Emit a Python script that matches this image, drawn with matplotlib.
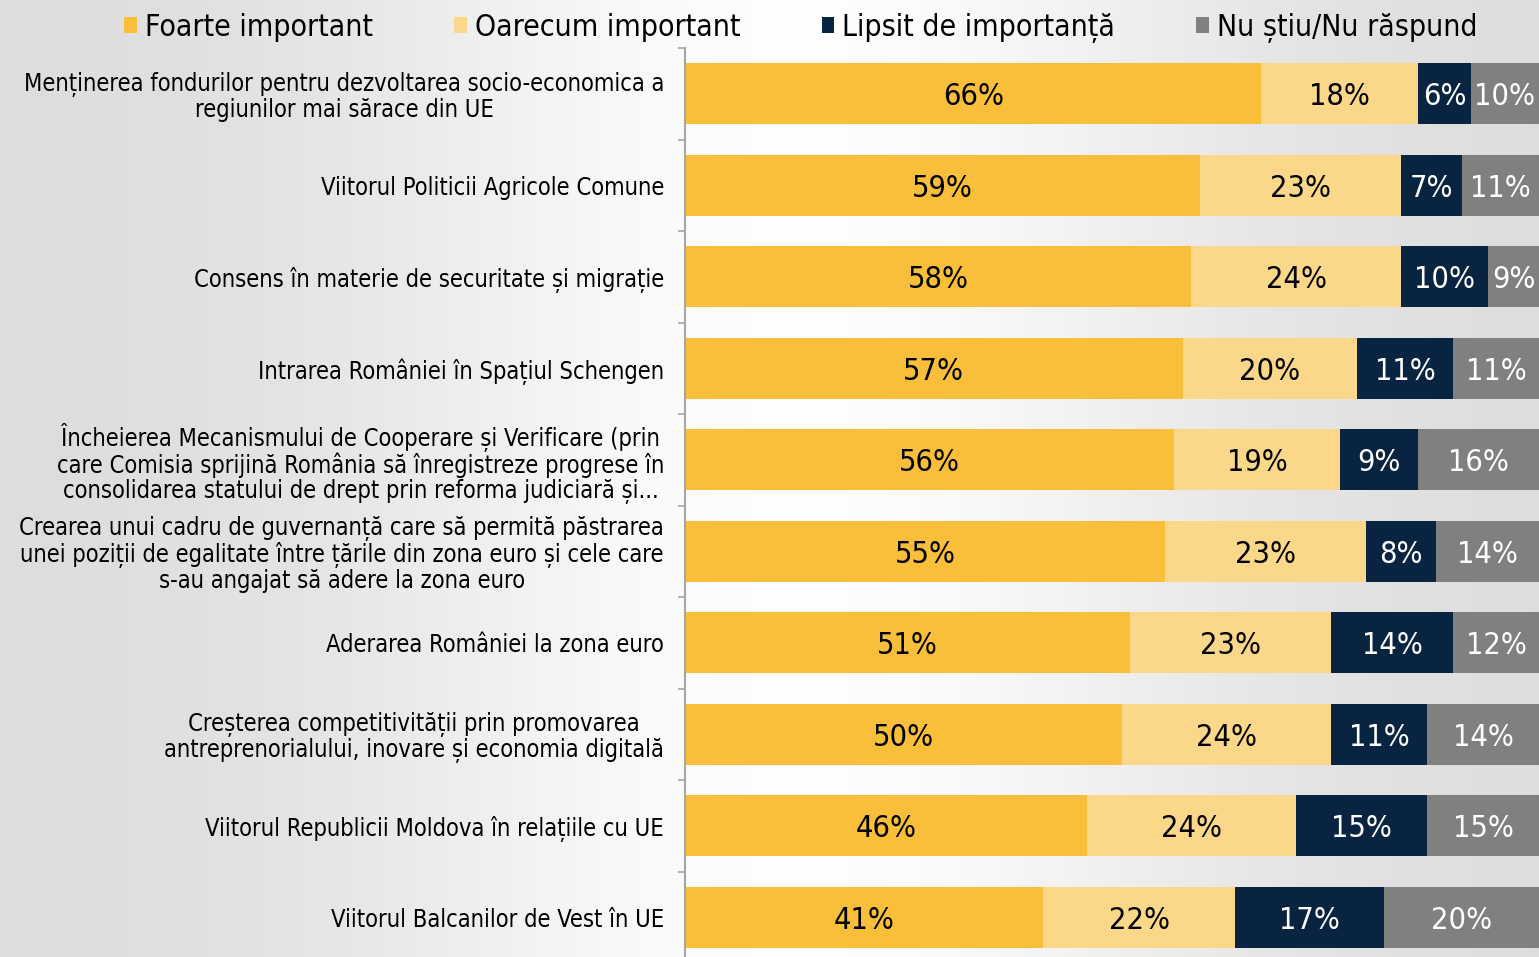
import numpy as np
import matplotlib
matplotlib.use("Agg")
import matplotlib.pyplot as plt

categories = [
    "Menținerea fondurilor pentru dezvoltarea socio-economica a\nregiunilor mai sărace din UE",
    "Viitorul Politicii Agricole Comune",
    "Consens în materie de securitate și migrație",
    "Intrarea României în Spațiul Schengen",
    "Încheierea Mecanismului de Cooperare și Verificare (prin\ncare Comisia sprijină România să înregistreze progrese în\nconsolidarea statului de drept prin reforma judiciară și...",
    "Crearea unui cadru de guvernanță care să permită păstrarea\nunei poziții de egalitate între țările din zona euro și cele care\ns-au angajat să adere la zona euro",
    "Aderarea României la zona euro",
    "Creșterea competitivității prin promovarea\nantreprenorialului, inovare și economia digitală",
    "Viitorul Republicii Moldova în relațiile cu UE",
    "Viitorul Balcanilor de Vest în UE",
]
series_names = ["Foarte important", "Oarecum important", "Lipsit de importanță", "Nu știu/Nu răspund"]
foarte = [66, 59, 58, 57, 56, 55, 51, 50, 46, 41]
oarecum = [18, 23, 24, 20, 19, 23, 23, 24, 24, 22]
lipsit = [6, 7, 10, 11, 9, 8, 14, 11, 15, 17]
nu_stiu = [10, 11, 9, 11, 16, 14, 12, 14, 15, 20]

colors = ["#F9BE3A", "#FBD889", "#082440", "#808080"]
text_colors = ["black", "black", "white", "white"]
font = dict(family="DejaVu Sans", stretch="condensed")

W, H = 1539, 957
fig = plt.figure(figsize=(W / 100, H / 100), dpi=100)

# background gradient
bg = fig.add_axes([0, 0, 1, 1], zorder=0)
xx = np.linspace(0, 1, 400)
g = 0.86 + 0.13 * np.exp(-((xx - 0.52) / 0.28) ** 2)
img = np.tile(g, (50, 1))
bg.imshow(img, cmap="gray", vmin=0, vmax=1, aspect="auto", extent=[0, 1, 0, 1])
bg.axis("off")

ax = fig.add_axes([685 / W, 0, 1 - 685 / W, 1 - 48 / H], zorder=1)
ax.patch.set_alpha(0)

y = np.arange(len(categories))
left = np.zeros(len(categories))
bars = []
for vals, name, c, tc in zip([foarte, oarecum, lipsit, nu_stiu], series_names, colors, text_colors):
    b = ax.barh(y, vals, left=left, height=0.667, color=c, label=name)
    txts = ax.bar_label(b, labels=[f"{v}%" for v in vals], label_type="center",
                        color=tc, fontsize=22, **font)
    for t in txts:
        t.set_verticalalignment("center_baseline")
    bars.append(b)
    left = left + np.array(vals)

ax.set_xlim(0, 97.8)
ax.set_ylim(9.432, -0.5)
ax.set_xticks([])
ax.set_yticks(y)
ax.set_yticklabels(categories, fontsize=17, multialignment="center", linespacing=1.05, **font)
ax.set_yticks(np.arange(-0.5, 9.5, 1), minor=True)
ax.tick_params(axis="y", which="major", length=0, pad=15)
ax.tick_params(axis="y", which="minor", length=5, width=1.2, color="#a6a6a6")
for s in ["top", "right", "bottom"]:
    ax.spines[s].set_visible(False)
ax.spines["left"].set_color("#a6a6a6")
ax.spines["left"].set_linewidth(1.5)

fig.legend(handles=bars, labels=series_names, loc="center left", bbox_to_anchor=(109 / W, 1 - 28 / H),
           ncol=4, frameon=False, borderpad=0, handlelength=0.43, handleheight=0.43,
           handletextpad=0.27, columnspacing=2.7,
           prop=dict(size=21.6, **font))

fig.savefig("out.png", dpi=100)
